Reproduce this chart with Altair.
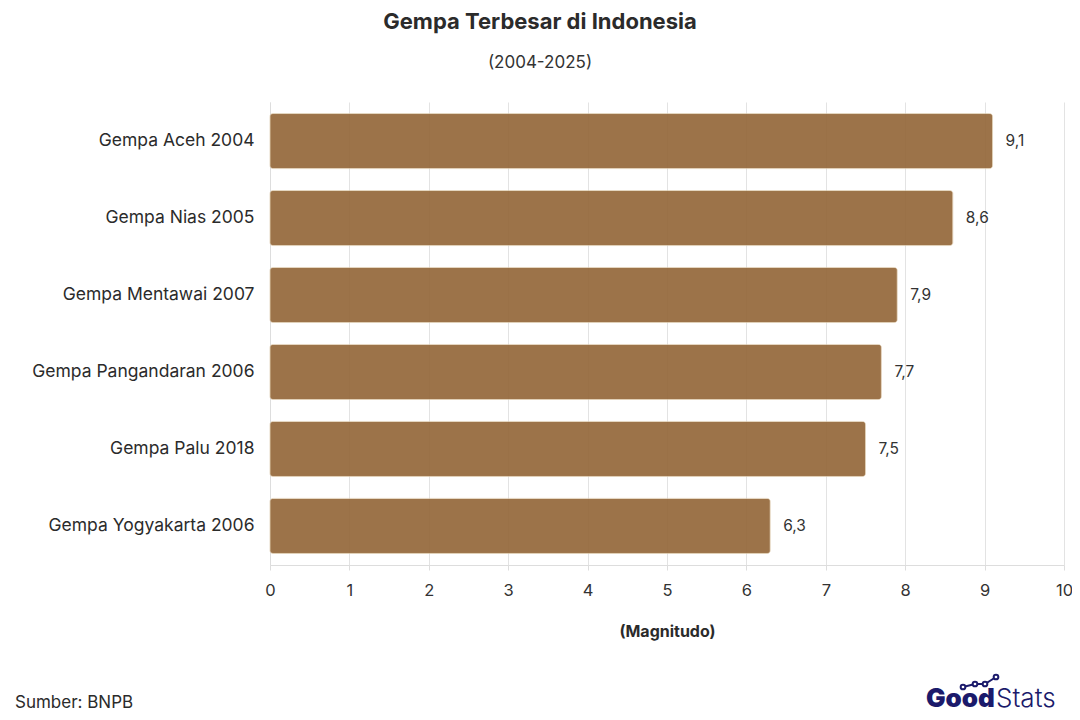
import altair as alt
import pandas as pd

gempa = ["Gempa Aceh 2004", "Gempa Nias 2005", "Gempa Mentawai 2007",
         "Gempa Pangandaran 2006", "Gempa Palu 2018", "Gempa Yogyakarta 2006"]
magnitudo = [9.1, 8.6, 7.9, 7.7, 7.5, 6.3]

df = pd.DataFrame({"gempa": gempa, "mag": magnitudo})

FONT = "Inter"
W, H = 794, 463
OX, OY = 270, 102

base = alt.Chart(df)

yenc = alt.Y("gempa:N", sort=gempa, title=None,
             scale=alt.Scale(paddingInner=0.285, paddingOuter=0.15),
             axis=alt.Axis(labelFontSize=17.5, labelColor="#2b2b2b", labelFont=FONT,
                           labelPadding=16, labelLimit=400, ticks=False, domain=True,
                           domainColor="#dddddd", grid=False))
xenc = alt.X("mag:Q", title="(Magnitudo)",
             scale=alt.Scale(domain=[0, 10], nice=False),
             axis=alt.Axis(values=list(range(0, 11)), format="d", labelFlush=False,
                           labelFontSize=16.5, labelColor="#333333",
                           labelFont=FONT, labelPadding=12, tickSize=5, tickColor="#dddddd",
                           domainColor="#dddddd", gridColor="#e3e3e3", grid=True,
                           titleFont=FONT, titleFontSize=16, titleFontWeight="bold",
                           titleColor="#2b2b2b", titlePadding=25))

bars = base.mark_bar(color="#94683a", opacity=0.92, cornerRadius=3,
                     stroke="#d9c2a3", strokeWidth=0.6).encode(x=xenc, y=yenc)

labels = base.transform_calculate(
    lbl="replace(format(datum.mag, '.1f'), '.', ',')"
).mark_text(align="left", dx=13, fontSize=15.5, font=FONT, color="#333333").encode(
    x="mag:Q", y=alt.Y("gempa:N", sort=gempa), text="lbl:N")

title = alt.Chart(pd.DataFrame({"t": ["Gempa Terbesar di Indonesia"]})).mark_text(
    font=FONT, fontSize=22, fontWeight="bold", color="#2b2b2b", align="center", baseline="middle"
).encode(x=alt.value(540 - OX), y=alt.value(22 - OY), text="t:N")

subtitle = alt.Chart(pd.DataFrame({"t": ["(2004-2025)"]})).mark_text(
    font=FONT, fontSize=17, color="#333333", align="center", baseline="middle"
).encode(x=alt.value(540 - OX), y=alt.value(63 - OY), text="t:N")

source = alt.Chart(pd.DataFrame({"t": ["Sumber: BNPB"]})).mark_text(
    font=FONT, fontSize=17, color="#2b2b2b", align="left", baseline="middle"
).encode(x=alt.value(15 - OX), y=alt.value(703 - OY), text="t:N")

logo_good = alt.Chart(pd.DataFrame({"t": ["Good"]})).mark_text(
    font=FONT, fontSize=26, fontWeight=900, color="#1b1a6b", align="left", baseline="middle"
).encode(x=alt.value(926 - OX), y=alt.value(699 - OY), text="t:N")

logo_stats = alt.Chart(pd.DataFrame({"t": ["Stats"]})).mark_text(
    font=FONT, fontSize=26, fontWeight=300, color="#1b1a6b", align="left", baseline="middle"
).encode(x=alt.value(996 - OX), y=alt.value(699 - OY), text="t:N")

icon_x = [963 - OX, 975 - OX, 985 - OX, 996 - OX]
icon_y = [687 - OY, 684 - OY, 684 - OY, 677 - OY]
icon_df = pd.DataFrame({"px": icon_x, "py": icon_y})
icon_line = alt.Chart(icon_df).mark_line(color="#1b1a6b", strokeWidth=2).encode(
    x=alt.X("px:Q", scale=None), y=alt.Y("py:Q", scale=None))
icon_pts = alt.Chart(icon_df).mark_point(color="#1b1a6b", fill="white", filled=True, size=22,
                                         stroke="#1b1a6b", strokeWidth=2, opacity=1).encode(
    x=alt.X("px:Q", scale=None), y=alt.Y("py:Q", scale=None))

chart = alt.layer(bars, labels, title, subtitle, source, logo_good, logo_stats,
                  icon_line, icon_pts).properties(
    width=W, height=H,
    autosize=alt.AutoSizeParams(type="none"),
    padding={"left": 262, "top": 94, "right": 8, "bottom": 147},
    background="white"
).configure_view(stroke=None)

chart.save("out.html", embed_options={"renderer": "svg", "actions": False})
